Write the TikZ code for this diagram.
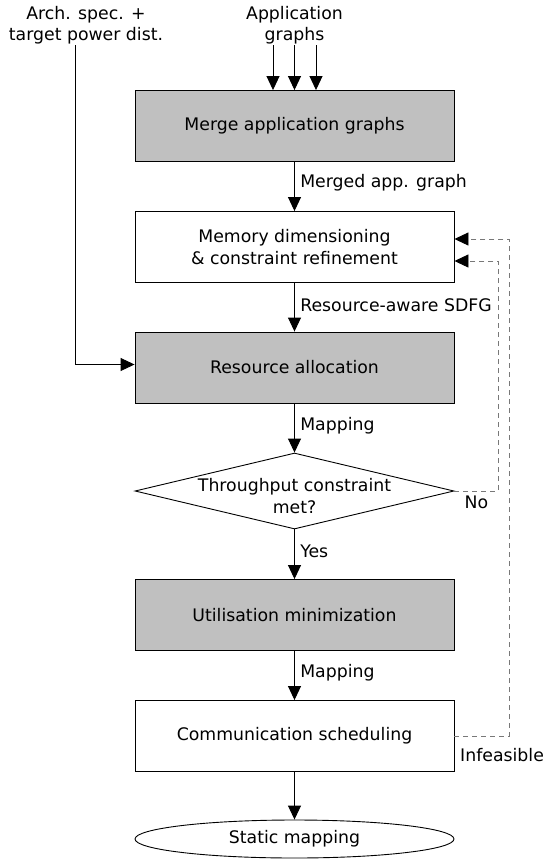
\documentclass[tikz,border=0pt]{standalone}
\usepackage{fontspec}
\setmainfont{DejaVu Sans}
\usetikzlibrary{arrows.meta,shapes.geometric}
\definecolor{stepgray}{RGB}{192,192,192}
\definecolor{loopgray}{RGB}{120,120,120}

\begin{document}
\begin{tikzpicture}[x=1pt,y=-1pt,
    font=\fontsize{17.3}{21.5}\selectfont,
    every node/.style={align=center},
    stepbox/.style={draw,line width=0.9pt,minimum width=319pt,minimum height=71pt,inner sep=0pt},
    busy/.style={stepbox,fill=stepgray},
    flow/.style={line width=0.9pt,-{Triangle[length=14pt,width=13pt]}},
    back/.style={draw=loopgray,line width=0.9pt,dash pattern=on 5pt off 4pt,
        -{Triangle[length=14pt,width=13pt,color=black]}}]
    \useasboundingbox (0,0) rectangle (544,863);

    % 输入
    \node[inner sep=1pt] (arch) at (86,25) {Arch. spec. +\\target power dist.};
    \node[inner sep=1pt] (apps) at (294.5,25) {Application\\graphs};

    % 步骤
    \node[busy] (merge) at (294.5,126) {Merge application graphs};
    \node[stepbox] (mem) at (294.5,247) {Memory dimensioning\\\& constraint refinement};
    \node[busy] (alloc) at (294.5,367.5) {Resource allocation};
    \node[draw,diamond,line width=0.9pt,aspect=4.2,minimum width=319pt,minimum height=76pt,
        inner sep=0pt,label={[align=center,yshift=-5pt]center:Throughput constraint\\met?}]
        (check) at (294.5,491) {};
    \node[busy] (util) at (294.5,615) {Utilisation minimization};
    \node[stepbox] (comm) at (294.5,736) {Communication scheduling};
    \node[draw,ellipse,line width=0.9pt,minimum width=319pt,minimum height=38pt,
        inner sep=0pt] (result) at (294.5,839) {Static mapping};

    % 连线
    \foreach \dx in {-21.5,0,21.5}
        \draw[flow] ([xshift=\dx pt]apps.south) -- ([xshift=\dx pt]merge.north);
    \draw[flow] ([xshift=-11pt]arch.south) |- ([yshift=3pt]alloc.west);
    \draw[flow] (merge) -- node[right=2pt,pos=0.42] {Merged app. graph} (mem);
    \draw[flow] (mem) -- node[right=2pt,pos=0.45] {Resource-aware SDFG} (alloc);
    \draw[flow] (alloc) -- node[right=2pt,pos=0.46] {Mapping} (check);
    \draw[flow] (check) -- node[right=2pt,pos=0.45] {Yes} (util);
    \draw[flow] (util) -- node[right=2pt,pos=0.45] {Mapping} (comm);
    \draw[flow] (comm) -- (result);

    % 反馈
    \draw[back] (check.east) -- node[below,inner sep=4pt] {No} ++(44,0)
        |- ([yshift=-14pt]mem.east);
    \draw[back] (comm.east) -- node[pos=0,anchor=north west,xshift=2pt,yshift=-9pt] {Infeasible} ++(55,0)
        |- ([yshift=8pt]mem.east);
\end{tikzpicture}
\end{document}
